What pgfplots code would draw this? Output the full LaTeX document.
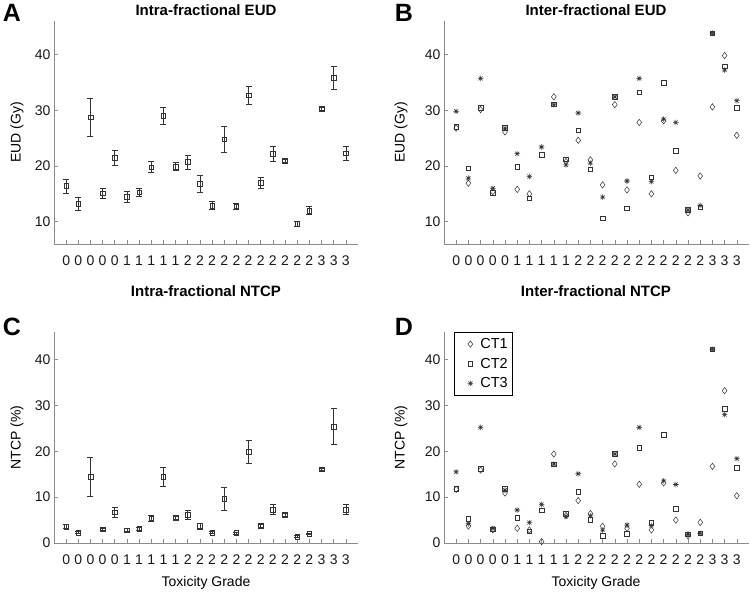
\documentclass[border=0pt]{standalone}
\usepackage{pgfplots}
\pgfplotsset{compat=1.18}
\usepackage{pgfplotstable}
\usepackage{fontspec}
\setmainfont{Liberation Sans}

\pgfplotstableread{
x y e
1 16.4 1.25
2 13.2 1.2
3 28.7 3.35
4 15.1 0.85
5 21.5 1.3
6 14.5 1.0
7 15.3 0.7
8 19.8 1.0
9 29.0 1.5
10 19.9 0.7
11 20.7 1.3
12 16.8 1.45
13 12.9 0.75
14 24.8 2.4
15 12.8 0.5
16 32.7 1.6
17 17.0 1.05
18 22.2 1.4
19 20.95 0.33
20 9.6 0.5
21 12.0 0.7
22 30.3 0.25
23 35.8 2.05
24 22.3 1.3
}\dataA

\pgfplotstableread{
x y e
1 3.6 0.5
2 2.3 0.2
3 14.4 4.2
4 3.0 0.3
5 6.7 1.0
6 2.8 0.3
7 3.1 0.3
8 5.4 0.6
9 14.5 2.05
10 5.5 0.4
11 6.1 1.0
12 3.7 0.65
13 2.3 0.2
14 9.6 2.55
15 2.2 0.2
16 19.9 2.5
17 3.8 0.3
18 7.3 1.05
19 6.2 0.3
20 1.4 0.2
21 2.0 0.2
22 16.1 0.2
23 25.4 3.9
24 7.3 1.15
}\dataC

\pgfplotstableread{
x ct1 ct2 ct3
1 26.8 27.0 29.8
2 16.9 19.6 17.8
3 30.1 30.4 35.7
4 15.4 15.2 16.0
5 26.1 26.9 26.7
6 15.8 19.9 22.2
7 15.0 14.2 18.1
8 nan 22.0 23.4
9 32.4 31.1 31.0
10 20.8 21.2 20.2
11 24.6 26.4 29.5
12 21.1 19.4 20.5
13 16.6 10.6 14.4
14 31.0 32.4 32.4
15 15.7 12.4 17.3
16 27.8 33.2 35.7
17 15.0 18.0 17.2
18 28.1 34.9 28.4
19 19.2 22.7 27.8
20 11.6 12.1 12.1
21 18.2 12.6 12.9
22 30.6 43.8 43.8
23 39.8 37.9 37.2
24 25.5 30.4 31.7
}\dataB

\pgfplotstableread{
x ct1 ct2 ct3
1 11.7 11.8 15.5
2 3.7 5.3 4.2
3 15.9 16.2 25.2
4 2.9 3.0 3.2
5 10.9 11.8 11.5
6 3.2 5.5 7.2
7 2.85 2.6 4.45
8 0.3 7.1 8.4
9 19.4 17.2 17.2
10 6.0 6.4 5.8
11 9.25 11.2 15.1
12 6.4 5.1 5.9
13 3.65 1.6 2.8
14 17.25 19.4 19.4
15 3.2 2.0 3.9
16 12.8 20.75 25.2
17 2.85 4.4 3.8
18 13.1 23.6 13.55
19 5.0 7.5 12.75
20 1.6 1.9 1.9
21 4.5 2.1 2.1
22 16.7 42.2 42.2
23 33.2 29.3 28.0
24 10.3 16.4 18.4
}\dataD

\definecolor{axgray}{gray}{0.55}
\definecolor{mk}{gray}{0.2}

% MATLAB-like asterisk: plus and cross combined
\pgfdeclareplotmark{mstar}{%
  \pgfpathmoveto{\pgfqpoint{0pt}{\pgfplotmarksize}}%
  \pgfpathlineto{\pgfqpoint{0pt}{-\pgfplotmarksize}}%
  \pgfpathmoveto{\pgfqpoint{\pgfplotmarksize}{0pt}}%
  \pgfpathlineto{\pgfqpoint{-\pgfplotmarksize}{0pt}}%
  \pgfpathmoveto{\pgfqpoint{0.707\pgfplotmarksize}{0.707\pgfplotmarksize}}%
  \pgfpathlineto{\pgfqpoint{-0.707\pgfplotmarksize}{-0.707\pgfplotmarksize}}%
  \pgfpathmoveto{\pgfqpoint{-0.707\pgfplotmarksize}{0.707\pgfplotmarksize}}%
  \pgfpathlineto{\pgfqpoint{0.707\pgfplotmarksize}{-0.707\pgfplotmarksize}}%
  \pgfusepathqstroke}

\pgfplotsset{
  panel/.style={
    scale only axis,
    axis lines*=left,
    xmin=0, xmax=25,
    xtick={1,...,24},
    xticklabels={0,0,0,0,0,1,1,1,1,1,2,2,2,2,2,2,2,2,2,2,2,3,3,3},
    ytick={0,10,20,30,40},
    tick align=inside,
    major tick length=4pt,
    axis line style={axgray, line width=0.6pt},
    tick style={axgray, line width=0.6pt},
    ticklabel style={font=\fontsize{14}{16}\selectfont, text=black!90},
    xticklabel style={yshift=-8pt},
    /pgf/number format/assume math mode=true,
    clip=false,
  },
  errplot/.style={
    only marks, mark=square, mark size=2.3pt, mk, mark options={line width=0.5pt},
    error bars/.cd, y dir=both, y explicit,
    error bar style={mk, line width=0.6pt},
    error mark options={mk, mark size=3pt, line width=0.6pt, rotate=90},
  },
  ct1/.style={only marks, mark=diamond, mark size=3.2pt, mk, mark options={line width=0.5pt}},
  ct2/.style={only marks, mark=square, mark size=2.3pt, mk, mark options={line width=0.5pt}},
  ct3/.style={only marks, mark=mstar, mark size=2.8pt, mk, mark options={line width=0.55pt}},
}

\begin{document}
\begin{tikzpicture}
\useasboundingbox (0pt,0pt) rectangle (750pt,-594pt);

% Panel A
\begin{axis}[panel, at={(54pt,-244pt)}, anchor=south west, width=304pt, height=223pt, ymin=6, ymax=46]
\addplot[errplot] table[x=x, y=y, y error=e] {\dataA};
\end{axis}

% Panel B
\begin{axis}[panel, at={(444pt,-244pt)}, anchor=south west, width=305pt, height=223pt, ymin=6, ymax=46]
\addplot[ct1] table[x=x, y=ct1] {\dataB};
\addplot[ct2] table[x=x, y=ct2] {\dataB};
\addplot[ct3] table[x=x, y=ct3] {\dataB};
\end{axis}

% Panel C
\begin{axis}[panel, at={(54pt,-543pt)}, anchor=south west, width=304pt, height=211pt, ymin=0, ymax=46]
\addplot[errplot] table[x=x, y=y, y error=e] {\dataC};
\end{axis}

% Panel D
\begin{axis}[panel, at={(444pt,-543pt)}, anchor=south west, width=305pt, height=211pt, ymin=0, ymax=46,
  legend style={at={(0.033,1)}, anchor=north west, draw=black, line width=0.6pt, font=\fontsize{14.5}{16}\selectfont, row sep=4pt, inner xsep=3pt, inner ysep=4pt},
  legend cell align=left,
  legend image code/.code={%
    \path[draw=none] (0pt,0pt) -- (21pt,0pt);
    \draw[#1, only marks] plot coordinates {(13pt,0pt)};}]
\addplot[ct1] table[x=x, y=ct1] {\dataD};
\addlegendentry{CT1}
\addplot[ct2] table[x=x, y=ct2] {\dataD};
\addlegendentry{CT2}
\addplot[ct3] table[x=x, y=ct3] {\dataD};
\addlegendentry{CT3}
\end{axis}

% titles
\node[font=\bfseries\fontsize{15}{17}\selectfont] at (206pt,-10pt) {Intra-fractional EUD};
\node[font=\bfseries\fontsize{15}{17}\selectfont] at (596pt,-10pt) {Inter-fractional EUD};
\node[font=\bfseries\fontsize{15}{17}\selectfont] at (206pt,-291pt) {Intra-fractional NTCP};
\node[font=\bfseries\fontsize{15}{17}\selectfont] at (596pt,-291pt) {Inter-fractional NTCP};

% panel letters
\node[font=\bfseries\fontsize{25}{27}\selectfont] at (12pt,-13pt) {A};
\node[font=\bfseries\fontsize{25}{27}\selectfont] at (404pt,-13pt) {B};
\node[font=\bfseries\fontsize{25}{27}\selectfont] at (12pt,-327pt) {C};
\node[font=\bfseries\fontsize{25}{27}\selectfont] at (404pt,-327pt) {D};

% y labels
\node[rotate=90, font=\fontsize{14}{16}\selectfont] at (17pt,-132.5pt) {EUD (Gy)};
\node[rotate=90, font=\fontsize{14}{16}\selectfont] at (401pt,-132.5pt) {EUD (Gy)};
\node[rotate=90, font=\fontsize{14}{16}\selectfont] at (17pt,-437.5pt) {NTCP (\%)};
\node[rotate=90, font=\fontsize{14}{16}\selectfont] at (401pt,-437.5pt) {NTCP (\%)};

% x labels
\node[font=\fontsize{14}{16}\selectfont] at (206pt,-583pt) {Toxicity Grade};
\node[font=\fontsize{14}{16}\selectfont] at (596pt,-583pt) {Toxicity Grade};
\end{tikzpicture}
\end{document}
